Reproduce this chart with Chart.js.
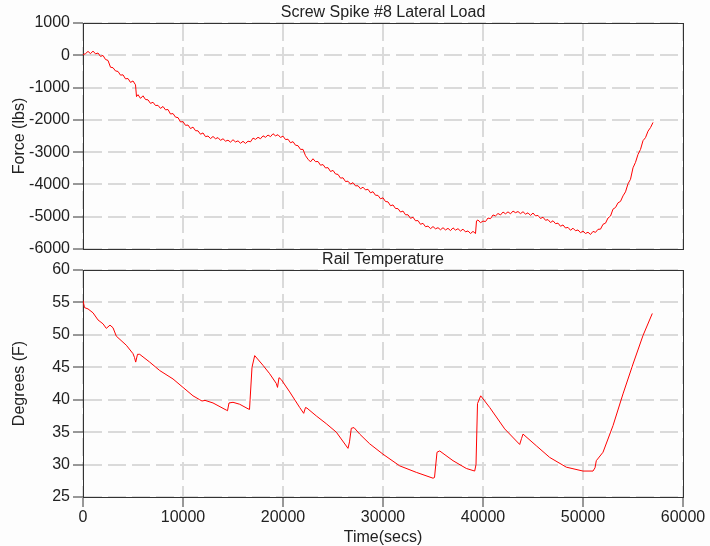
<!DOCTYPE html>
<html>
<head>
<meta charset="utf-8">
<script src="https://cdn.jsdelivr.net/npm/chart.js@4/dist/chart.umd.min.js"></script>
<style>
    html, body { margin: 0; padding: 0; background: #fdfdfd; }
    #wrap { position: relative; width: 710px; height: 546px; }
    canvas { position: absolute; left: 0; }
    #chart-load { top: 0; }
    #chart-temp { top: 250px; }
</style>
</head>
<body>
<div id="wrap">
    <canvas id="chart-load" width="710" height="258"></canvas>
    <canvas id="chart-temp" width="710" height="296"></canvas>
</div>
<script>
// =========================
// DATOS
// =========================
const loadTime = [
    0, 250, 500, 750, 1000, 1250, 1500, 1750, 2000, 2250,
    2500, 2750, 3000, 3250, 3500, 3750, 4000, 4250, 4500, 4750,
    5000, 5250, 5350, 5500, 5750, 6000, 6250, 6500, 6750, 7000,
    7250, 7500, 7750, 8000, 8250, 8500, 8750, 9000, 9250, 9500,
    9750, 10000, 10250, 10500, 10750, 11000, 11250, 11500, 11750, 12000,
    12250, 12500, 12750, 13000, 13250, 13500, 13750, 14000, 14250, 14500,
    14750, 15000, 15250, 15500, 15750, 16000, 16250, 16500, 16750, 17000,
    17250, 17500, 17750, 18000, 18250, 18500, 18750, 19000, 19250, 19500,
    19750, 20000, 20250, 20500, 20750, 21000, 21250, 21500, 21750, 22000,
    22250, 22500, 22750, 23000, 23250, 23500, 23750, 24000, 24250, 24500,
    24750, 25000, 25250, 25500, 25750, 26000, 26250, 26500, 26750, 27000,
    27250, 27500, 27750, 28000, 28250, 28500, 28750, 29000, 29250, 29500,
    29750, 30000, 30250, 30500, 30750, 31000, 31250, 31500, 31750, 32000,
    32250, 32500, 32750, 33000, 33250, 33500, 33750, 34000, 34250, 34500,
    34750, 35000, 35250, 35500, 35750, 36000, 36250, 36500, 36750, 37000,
    37250, 37500, 37750, 38000, 38250, 38500, 38750, 39000, 39250, 39350,
    39500, 39750, 40000, 40250, 40500, 40750, 41000, 41250, 41500, 41750,
    42000, 42250, 42500, 42750, 43000, 43250, 43500, 43750, 44000, 44250,
    44500, 44750, 45000, 45250, 45500, 45750, 46000, 46250, 46500, 46750,
    47000, 47250, 47500, 47750, 48000, 48250, 48500, 48750, 49000, 49250,
    49500, 49750, 50000, 50250, 50500, 50750, 51000, 51250, 51500, 51750,
    52000, 52250, 52500, 52750, 53000, 53250, 53500, 53750, 54000, 54250,
    54500, 54750, 55000, 55250, 55500, 55750, 56000, 56250, 56500, 56750,
    57000
]
const loadLbs = [
    20, 50, 120, 50, 130, 45, 70, -35, -5, -130,
    -160, -370, -385, -485, -500, -615, -605, -730, -720, -840,
    -795, -915, -1280, -1220, -1335, -1255, -1370, -1380, -1490, -1455,
    -1555, -1550, -1645, -1585, -1690, -1680, -1820, -1805, -1915, -1930,
    -2065, -2055, -2170, -2160, -2270, -2225, -2335, -2340, -2445, -2405,
    -2520, -2500, -2580, -2515, -2585, -2550, -2635, -2585, -2660, -2630,
    -2690, -2615, -2685, -2650, -2725, -2665, -2730, -2660, -2680, -2565,
    -2605, -2540, -2585, -2495, -2540, -2470, -2520, -2430, -2495, -2460,
    -2545, -2505, -2610, -2600, -2710, -2675, -2785, -2800, -2915, -2915,
    -3110, -3220, -3300, -3205, -3295, -3290, -3405, -3385, -3490, -3480,
    -3600, -3565, -3675, -3690, -3805, -3795, -3910, -3900, -3990, -3945,
    -4045, -4040, -4135, -4085, -4170, -4150, -4260, -4225, -4335, -4340,
    -4445, -4415, -4530, -4540, -4660, -4635, -4745, -4750, -4855, -4825,
    -4940, -4940, -5050, -5015, -5125, -5120, -5235, -5205, -5310, -5290,
    -5370, -5305, -5375, -5340, -5405, -5340, -5410, -5360, -5430, -5345,
    -5415, -5370, -5445, -5385, -5470, -5440, -5520, -5455, -5520, -5130,
    -5100, -5185, -5135, -5150, -5040, -5060, -4945, -4975, -4900, -4945,
    -4855, -4910, -4850, -4910, -4825, -4875, -4840, -4905, -4845, -4920,
    -4880, -4960, -4885, -4975, -4960, -5055, -5015, -5110, -5090, -5180,
    -5125, -5215, -5200, -5295, -5255, -5350, -5330, -5420, -5355, -5435,
    -5410, -5495, -5445, -5520, -5480, -5550, -5455, -5485, -5390, -5385,
    -5235, -5200, -5040, -4980, -4765, -4715, -4570, -4525, -4355, -4230,
    -3980, -3840, -3485, -3315, -3070, -2915, -2645, -2550, -2350, -2240,
    -2080
]

const tempTime = [
    0, 150, 500, 1000, 1500, 2000, 2330, 2700, 3000, 3330,
    4330, 5000, 5150, 5270, 5450, 5670, 6670, 7670, 9000, 10000,
    11000, 11670, 11900, 12200, 13000, 14330, 14450, 14600, 15000, 15670,
    16500, 16650, 16900, 17170, 18000, 18670, 19330, 19450, 19600, 19830,
    20670, 21670, 22070, 22250, 22400, 23330, 24330, 25330, 26500, 26650,
    26830, 27100, 27670, 28670, 30000, 31670, 33330, 35000, 35150, 35400,
    35670, 37000, 38330, 39170, 39300, 39450, 39770, 40670, 42170, 43670,
    43850, 44000, 45330, 46670, 48330, 50000, 51000, 51200, 51330, 52000,
    53000, 54000, 55000, 56000, 56930
]
const tempDeg = [
    55.3, 54.2, 54.0, 53.4, 52.3, 51.7, 51.0, 51.5, 51.1, 49.8,
    48.4, 47.1, 46.5, 45.8, 47.0, 47.0, 45.8, 44.5, 43.2, 41.9,
    40.6, 40.0, 39.8, 39.9, 39.5, 38.4, 38.3, 39.5, 39.6, 39.3,
    38.6, 38.5, 45.0, 46.8, 45.3, 44.0, 42.5, 41.9, 43.4, 43.1,
    41.2, 38.8, 37.9, 38.8, 38.7, 37.5, 36.3, 35.0, 32.5, 33.5,
    35.6, 35.7, 34.7, 33.2, 31.6, 29.8, 28.8, 27.9, 28.0, 31.9,
    32.1, 30.6, 29.4, 29.0, 30.0, 39.4, 40.6, 38.8, 35.5, 33.1,
    34.0, 34.7, 32.9, 31.1, 29.6, 29.0, 29.0, 29.5, 30.6, 31.9,
    36.0, 40.9, 45.5, 49.9, 53.3
]

const timeTicks = [0, 10000, 20000, 30000, 40000, 50000, 60000]
const loadTicks = [1000, 0, -1000, -2000, -3000, -4000, -5000, -6000]
const tempTicks = [60, 55, 50, 45, 40, 35, 30, 25]

// =========================
// ESTILO
// =========================
const FONT = { family: "'Liberation Sans', Arial, sans-serif", size: 16, lineHeight: 1, weight: "normal" }
const TICK_FONT = { family: "'Liberation Sans', Arial, sans-serif", size: 16, lineHeight: 1.2, weight: "normal" }
const TEXT = "#222"
const AXIS = "#333"
const GRID = "#dadada"

const toPoints = (xs, ys) => xs.map((x, i) => ({ x: x, y: ys[i] }))

const framePlugin = {
    id: "frame",
    beforeDatasetsDraw(chart) {
        const { ctx, chartArea: a } = chart
        ctx.save()
        ctx.strokeStyle = AXIS
        ctx.lineWidth = 1
        ctx.strokeRect(Math.round(a.left) + 0.5, Math.round(a.top) + 0.5,
            Math.round(a.right - a.left), Math.round(a.bottom - a.top))
        ctx.restore()
    }
}

function fixedTicks(values) {
    return (scale) => { scale.ticks = values.map(v => ({ value: v })) }
}

function yAxis(min, max, ticks, title) {
    return {
        type: "linear",
        min: min,
        max: max,
        afterBuildTicks: fixedTicks(ticks),
        afterFit(s) { s.width = 83; s.paddingTop = 0; s.paddingBottom = 0 },
        ticks: { padding: 3, color: TEXT, font: TICK_FONT, callback: v => String(v) },
        grid: { color: GRID, lineWidth: 2, tickColor: AXIS, tickWidth: 1, tickLength: 10 },
        border: { color: AXIS, dash: [18, 6] },
        title: { display: true, text: title, color: TEXT, font: FONT, padding: { top: 12, bottom: 0 } }
    }
}

function lineDataset(points) {
    return {
        data: points,
        borderColor: "#ff0000",
        borderWidth: 1,
        pointRadius: 0,
        tension: 0,
        fill: false
    }
}

function titleOpts(text, top, bottom) {
    return {
        display: true,
        text: text,
        fullSize: false,
        color: TEXT,
        font: FONT,
        padding: { top: top, bottom: bottom }
    }
}

// =========================
// GRAFICO CARGA
// =========================
new Chart(document.getElementById("chart-load"), {
    type: "line",
    data: { datasets: [lineDataset(toPoints(loadTime, loadLbs))] },
    options: {
        animation: false,
        responsive: false,
        devicePixelRatio: 1,
        layout: { padding: { left: 0, right: 27, top: 0, bottom: 0 } },
        plugins: {
            legend: { display: false },
            tooltip: { enabled: false },
            title: titleOpts("Screw Spike #8 Lateral Load", 5, 2)
        },
        scales: {
            x: {
                type: "linear",
                min: 0,
                max: 60000,
                afterBuildTicks: fixedTicks(timeTicks),
                afterFit(s) { s.height = 9; s.paddingLeft = 0; s.paddingRight = 0 },
                ticks: { display: false },
                grid: { color: GRID, lineWidth: 2, drawTicks: false },
                border: { color: AXIS, dash: [18, 6] }
            },
            y: yAxis(-6000, 1000, loadTicks, "Force (lbs)")
        }
    },
    plugins: [framePlugin]
})

// =========================
// GRAFICO TEMPERATURA
// =========================
new Chart(document.getElementById("chart-temp"), {
    type: "line",
    data: { datasets: [lineDataset(toPoints(tempTime, tempDeg))] },
    options: {
        animation: false,
        responsive: false,
        devicePixelRatio: 1,
        layout: { padding: { left: 0, right: 27, top: 0, bottom: 0 } },
        plugins: {
            legend: { display: false },
            tooltip: { enabled: false },
            title: titleOpts("Rail Temperature", 2, 2)
        },
        scales: {
            x: {
                type: "linear",
                min: 0,
                max: 60000,
                afterBuildTicks: fixedTicks(timeTicks),
                afterFit(s) { s.height = 49 },
                ticks: { padding: 1, color: TEXT, font: TICK_FONT, maxRotation: 0, autoSkip: false, callback: v => String(v) },
                grid: { color: GRID, lineWidth: 2, tickColor: AXIS, tickWidth: 1, tickLength: 10 },
                border: { color: AXIS, dash: [18, 6] },
                title: { display: true, text: "Time(secs)", color: TEXT, font: FONT, padding: { top: 0, bottom: 0 } }
            },
            y: yAxis(25, 60, tempTicks, "Degrees (F)")
        }
    },
    plugins: [framePlugin]
})
</script>
</body>
</html>
